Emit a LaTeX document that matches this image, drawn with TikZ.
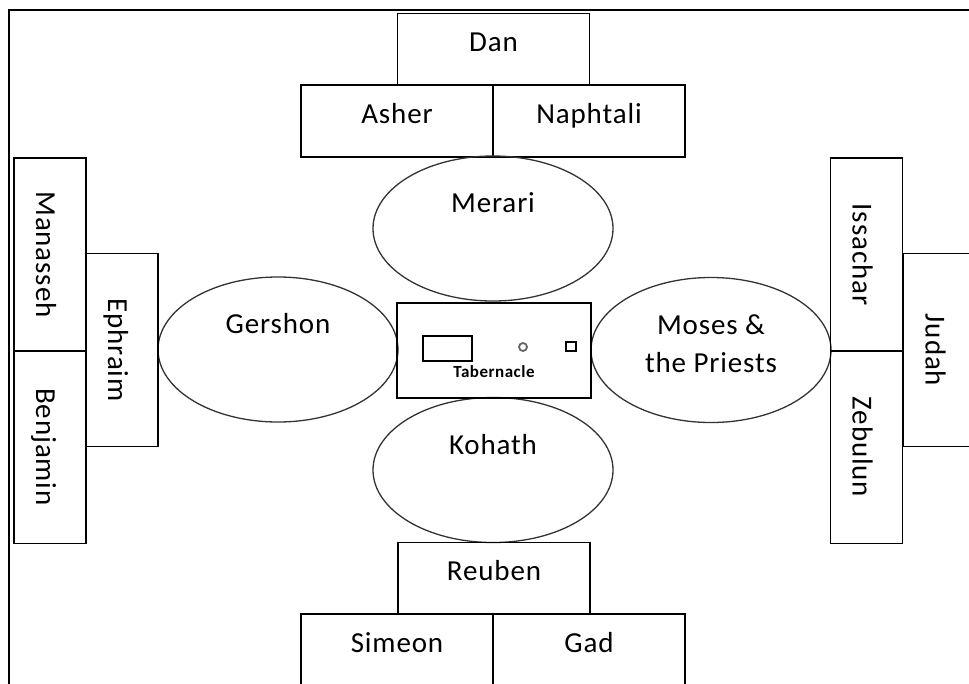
\documentclass[tikz,border=0pt]{standalone}
\usepackage{fontspec}
\setmainfont{Carlito}[LetterSpace=3]
\usepackage{tikz}
\usetikzlibrary{shapes.geometric}

\newcommand{\tribefont}{\fontsize{29pt}{38pt}\selectfont}

\begin{document}
\begin{tikzpicture}[
    x=1pt, y=-1pt,
    tribe/.style={rectangle, draw, line width=1.4pt, inner sep=0pt, minimum width=192pt, text height=38pt, text depth=34pt, font=\tribefont},
    wing/.style={tribe, rotate=-90, minimum width=193pt, text height=50pt, text depth=22pt},
    clan/.style={ellipse, draw=black!80, line width=1.3pt, inner sep=0pt, minimum width=240pt, minimum height=145pt, text height=18pt, text depth=50pt, font=\tribefont, align=center},
    tent/.style={rectangle, draw, line width=1.4pt, inner sep=0pt, minimum width=194pt, text height=74pt, text depth=21pt, font=\fontsize{17pt}{20pt}\selectfont\bfseries}
]

\useasboundingbox (0,0) rectangle (969,683);
\clip (0,0) rectangle (969,683);

\draw[line width=2.5pt] (9,690) -- (9,10) -- (975,10);

\node[tribe] (dan) at (493.5,49.5) {Dan};
\node[tribe] (asher) at (397,121) {Asher};
\node[tribe] (naphtali) at (589,121) {Naphtali};

\node[clan] (merari) at (493,228.5) {Merari};
\node[clan] (gershon) at (278,349.5) {Gershon};
\node[clan, text height=58pt, text depth=14pt] (moses) at (711,350) {Moses \&\\the Priests};
\node[clan] (kohath) at (493,470) {Kohath};

\node[tent] (tabernacle) at (494,350.5) {Tabernacle};
\draw[line width=1.4pt] (423,336) rectangle (472,361);
\draw[line width=1.8pt, black!60] (523,347) circle (4pt);
\draw[line width=1.4pt] (566,342) rectangle (576,351);

\node[tribe] (reuben) at (494,578.5) {Reuben};
\node[tribe] (simeon) at (397,650) {Simeon};
\node[tribe] (gad) at (589,650) {Gad};

\node[wing] (manasseh) at (50,254.5) {Manasseh};
\node[wing] (benjamin) at (50,447) {Benjamin};
\node[wing] (ephraim) at (122,350) {Ephraim};

\node[wing] (issachar) at (866.5,254.5) {Issachar};
\node[wing] (zebulun) at (866.5,447) {Zebulun};
\node[wing] (judah) at (939.5,350) {Judah};

\end{tikzpicture}
\end{document}
